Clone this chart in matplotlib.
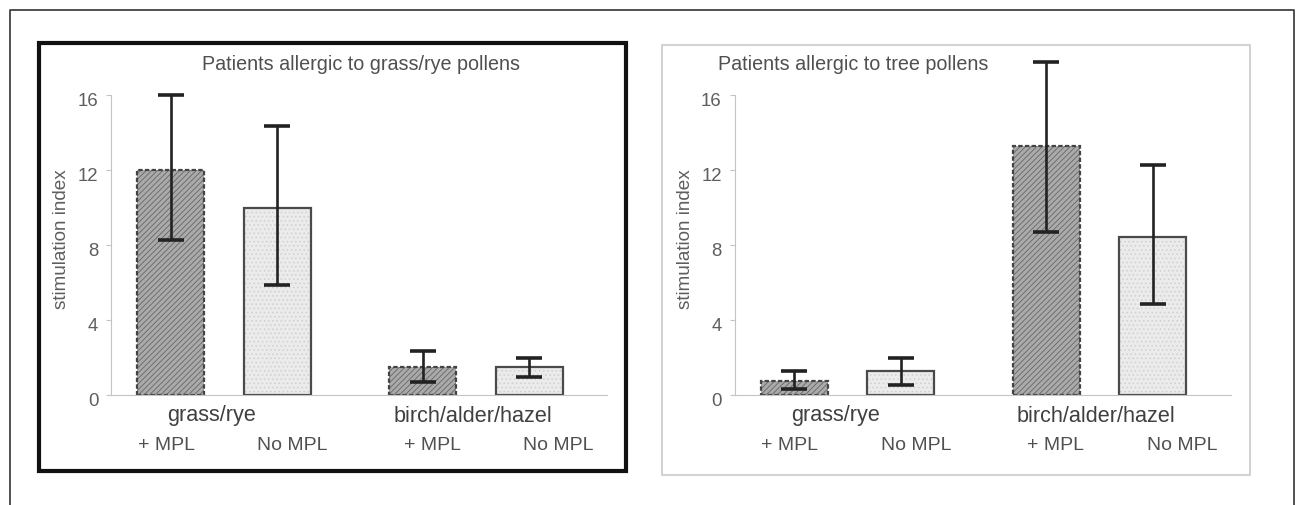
import matplotlib
matplotlib.use("Agg")
import matplotlib.pyplot as plt
from matplotlib.patches import Rectangle
from matplotlib.lines import Line2D
from matplotlib.transforms import blended_transform_factory, ScaledTranslation

plt.rcParams['font.family'] = ['Liberation Sans', 'DejaVu Sans']
plt.rcParams['hatch.linewidth'] = 0.6

# data (stimulation index)
titles = ["Patients allergic to grass/rye pollens", "Patients allergic to tree pollens"]
groups = ["grass/rye", "birch/alder/hazel"]
sublabels = ["+ MPL", "No MPL", "+ MPL", "No MPL"]
yticks = [0, 4, 8, 12, 16]

grass_vals = [12.0, 9.95, 1.5, 1.5]
grass_low = [8.27, 5.85, 0.68, 0.95]
grass_high = [16.0, 14.35, 2.35, 1.98]

tree_vals = [0.75, 1.3, 13.3, 8.45]
tree_low = [0.32, 0.55, 8.7, 4.85]
tree_high = [1.28, 1.98, 17.75, 12.25]

W, H = 1296, 505
fig = plt.figure(figsize=(W / 100, H / 100), dpi=100)

def fx(px):
    return px / W

def fy(py):
    return 1 - py / H

# outer frame (open at the bottom)
fig.add_artist(Line2D([fx(10), fx(10), fx(1294), fx(1294)], [0, fy(10), fy(10), 0],
                      transform=fig.transFigure, color="#333333", lw=1.2))
# panel frames
fig.add_artist(Rectangle((fx(39), fy(471)), fx(626) - fx(39), fy(43) - fy(471),
                         transform=fig.transFigure, fill=False, ec="#111111", lw=3))
fig.add_artist(Rectangle((fx(661.5), fy(475)), fx(1249.5) - fx(661.5), fy(45) - fy(475),
                         transform=fig.transFigure, fill=False, ec="#d2d2d2", lw=1.5))

pos = [0, 1, 2.37, 3.37]
group_x = [0.385, 2.84]
sub_x = [-0.04, 1.145, 2.46, 3.645]
dark = [True, False, True, False]
shift = ScaledTranslation(0, -3 / 72, fig.dpi_scale_trans)

def panel(left_px, vals, low, high, title, title_xy, title_ha):
    ax = fig.add_axes([fx(left_px), fy(395), 496 / W, 337.5 / H])
    ax.set_xlim(-0.56, 4.1)
    ax.set_ylim(0, 18)
    for x, v, d in zip(pos, vals, dark):
        if d:
            ax.bar(x, v, width=0.63, color="#aaaaaa", hatch="//////", ec="#666666", lw=0)
            ax.bar(x, v, width=0.63, fill=False, ec="#444444", lw=1.6, ls=(0, (2, 1)))
        else:
            ax.bar(x, v, width=0.63, color="#ebebeb", hatch="....", ec="#cfcfcf", lw=0)
            ax.bar(x, v, width=0.63, fill=False, ec="#4a4a4a", lw=1.6)
    err = [[v - l for v, l in zip(vals, low)], [h - v for v, h in zip(vals, high)]]
    ax.errorbar(pos, vals, yerr=err, fmt="none", ecolor="#222222",
                elinewidth=1.9, capsize=9.4, capthick=2.6)
    for s in ["top", "right"]:
        ax.spines[s].set_visible(False)
    ax.spines["left"].set_bounds(0, 16)
    ax.spines["left"].set_color("#c4c4c4")
    ax.spines["bottom"].set_color("#c4c4c4")
    ax.set_xticks([])
    ax.set_yticks(yticks)
    ax.tick_params(axis="y", length=3.6, color="#c4c4c4", labelsize=13.4,
                   labelcolor="#5e5e5e", pad=5.5)
    for lab in ax.get_yticklabels():
        lab.set_transform(lab.get_transform() + shift)
    ax.patch.set_alpha(0)
    tr = blended_transform_factory(ax.transData, fig.transFigure)
    for gx, g in zip(group_x, groups):
        ax.text(gx, fy(416), g, transform=tr, ha="center", va="center",
                fontsize=15.6, color="#404040")
    for sx, s in zip(sub_x, sublabels):
        ax.text(sx, fy(446), s, transform=tr, ha="center", va="center",
                fontsize=14, color="#505050")
    fig.text(fx(left_px - 49), fy(239), "stimulation index", rotation=90,
             ha="center", va="center", fontsize=13.6, color="#5e5e5e")
    fig.text(fx(title_xy[0]), fy(title_xy[1]), title, ha=title_ha, va="center",
             fontsize=14.2, color="#505050")
    return ax

panel(111, grass_vals, grass_low, grass_high, titles[0], (361, 65), "center")
panel(734.5, tree_vals, tree_low, tree_high, titles[1], (718, 64), "left")

fig.savefig("out.png", dpi=100)
